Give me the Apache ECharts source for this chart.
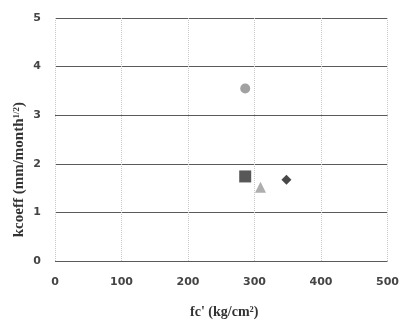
<!DOCTYPE html>
<html><head><meta charset="utf-8">
<script src="https://cdn.jsdelivr.net/npm/echarts@6/dist/echarts.min.js"></script>
<style>html,body{margin:0;padding:0;background:#fff}#c{width:402px;height:324px}</style>
</head><body><div id="c"></div>
<script>
const seriesNames = ['A', 'B', 'C', 'D'];
const xValues = [286, 286, 309, 348];
const yValues = [3.55, 1.74, 1.52, 1.67];
const symbols = ['circle', 'rect', 'triangle', 'diamond'];
const colors = ['#8a8a8a', '#2e2e2e', '#9a9a9a', '#1a1a1a'];
const sizes = [10, 12, 11, 10];
const xTicks = [0, 100, 200, 300, 400, 500];
const yTicks = [0, 1, 2, 3, 4, 5];

const chart = echarts.init(document.getElementById('c'), null, {renderer: 'canvas'});
chart.setOption({
  backgroundColor: '#fff',
  animation: false,
  grid: {left: 55, right: 12, top: 18, bottom: 60},
  graphic: [{
    type: 'text', left: 12, top: 102, rotation: Math.PI / 2,
    style: {
      text: '{a|kcoeff (mm/month}{s|1/2}{a|)}',
      rich: {
        a: {fontFamily: 'Liberation Serif', fontWeight: 'bold', fontSize: 15, fill: '#333'},
        s: {fontFamily: 'Liberation Serif', fontWeight: 'bold', fontSize: 9, fill: '#333', verticalAlign: 'top', padding: [0, 0, 6, 0]}
      }
    }
  }],
  xAxis: {
    type: 'value', min: xTicks[0], max: xTicks[xTicks.length - 1], interval: 100,
    name: "fc' (kg/cm²)", nameLocation: 'middle', nameGap: 44,
    nameTextStyle: {fontFamily: 'Liberation Serif', fontWeight: 'bold', fontSize: 14, color: '#333', padding: [0, 0, 0, 6]},
    axisLine: {show: false}, axisTick: {show: false},
    axisLabel: {fontFamily: 'DejaVu Sans', fontWeight: 'bold', fontSize: 11, color: '#444', margin: 16},
    splitLine: {show: true, lineStyle: {color: '#c8c8c8', type: 'dotted', width: 1}}
  },
  yAxis: {
    type: 'value', min: yTicks[0], max: yTicks[yTicks.length - 1], interval: 1,
    axisLine: {show: false}, axisTick: {show: false},
    axisLabel: {fontFamily: 'DejaVu Sans', fontWeight: 'bold', fontSize: 11, color: '#444', margin: 14},
    splitLine: {show: true, lineStyle: {color: '#5a5a5a', width: 1}}
  },
  series: seriesNames.map((n, i) => ({
    name: n, type: 'scatter', symbol: symbols[i], symbolSize: sizes[i],
    itemStyle: {color: colors[i]},
    data: [[xValues[i], yValues[i]]]
  }))
});
</script></body></html>
